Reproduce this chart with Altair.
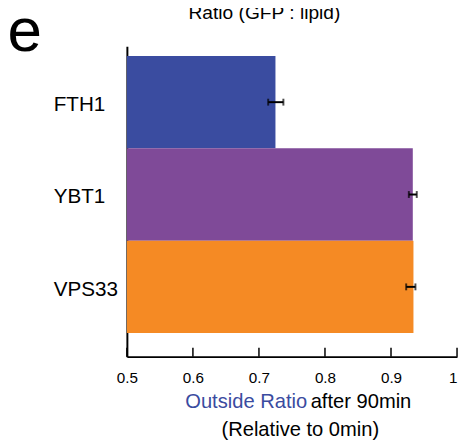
import altair as alt
import pandas as pd

genes = ["FTH1", "YBT1", "VPS33"]
ratios = [0.725, 0.933, 0.934]
err_low = [0.714, 0.927, 0.923]
err_high = [0.737, 0.939, 0.937]
bar_colors = ["#3A4CA0", "#7F4A98", "#F58A24"]
x_ticks = [0.5, 0.6, 0.7, 0.8, 0.9, 1.0]

df = pd.DataFrame({"gene": genes, "ratio": ratios, "lo": err_low, "hi": err_high,
                   "base": [0.5] * len(genes)})
ticks_df = pd.DataFrame({"t": x_ticks})

W, H = 336, 316
FONT = "Liberation Sans"
BLUE_TEXT = "#3A4BA0"

xscale = alt.Scale(domain=[0.5, 1.0], nice=False, zero=False)
yscale = alt.Scale(domain=genes, paddingInner=0, paddingOuter=0.181, align=0.294)

xaxis = alt.Axis(values=x_ticks, format="~g", ticks=False, domainColor="black",
                 domainWidth=2, labelFont=FONT, labelFontSize=15.5, labelColor="black",
                 labelPadding=14, labelFlush=False, grid=False, title=None,
                 labelAlign={"condition": {"test": "datum.value == 1", "value": "right"},
                             "value": "center"})
yaxis = alt.Axis(ticks=False, labelAlign="left", labelPadding=75, labelFont=FONT,
                 labelFontSize=21, labelColor="black", labelBaseline="middle",
                 labelOffset=3, domainColor="black", domainWidth=2, grid=False, title=None)

bars = alt.Chart(df).mark_bar().encode(
    x=alt.X("ratio:Q", scale=xscale, axis=xaxis),
    x2="base:Q",
    y=alt.Y("gene:N", scale=yscale, axis=yaxis),
    color=alt.Color("gene:N", scale=alt.Scale(domain=genes, range=bar_colors), legend=None),
)

err_rule = alt.Chart(df).mark_rule(color="black", strokeWidth=2).encode(
    x=alt.X("lo:Q", scale=xscale, axis=xaxis),
    x2="hi:Q",
    y=alt.Y("gene:N", scale=yscale, axis=yaxis),
)
cap_lo = alt.Chart(df).mark_tick(color="black", size=7, thickness=2, orient="vertical").encode(
    x=alt.X("lo:Q", scale=xscale, axis=xaxis),
    y=alt.Y("gene:N", scale=yscale, axis=yaxis),
)
cap_hi = alt.Chart(df).mark_tick(color="black", size=7, thickness=2, orient="vertical").encode(
    x=alt.X("hi:Q", scale=xscale, axis=xaxis),
    y=alt.Y("gene:N", scale=yscale, axis=yaxis),
)

tick_marks = alt.Chart(ticks_df).mark_rule(color="black", strokeWidth=1.5).encode(
    x=alt.X("t:Q", scale=xscale, axis=xaxis),
    y=alt.value(H - 9),
    y2=alt.value(H),
)

one = alt.Data(values=[{"a": 1}])

def label(text, x, y, size, align="center", color="black", font=FONT):
    return alt.Chart(one).mark_text(
        align=align, baseline="alphabetic", fontSize=size, font=font, color=color
    ).encode(x=alt.value(x), y=alt.value(y), text=alt.value(text))

title = label("Ratio (GFP : lipid)", 140, -28, 19.5)
panel = label("e", -121.5, 5, 63, align="left")
xt1a = label("Outside Ratio", 183.5, 368, 20.5, align="right", color=BLUE_TEXT)
xt1b = label("after 90min", 187, 368, 20.5, align="left")
xt2 = label("(Relative to 0min)", 176.5, 397, 20.5)

chart = alt.layer(
    bars, err_rule, cap_lo, cap_hi, tick_marks, title, panel, xt1a, xt1b, xt2
).properties(
    width=W, height=H,
    autosize=alt.AutoSizeParams(type="none"),
    padding={"left": 121, "top": 35, "right": 2, "bottom": 81},
).configure_view(stroke=None)

chart.save("out.html", embed_options={"renderer": "svg", "actions": False})
